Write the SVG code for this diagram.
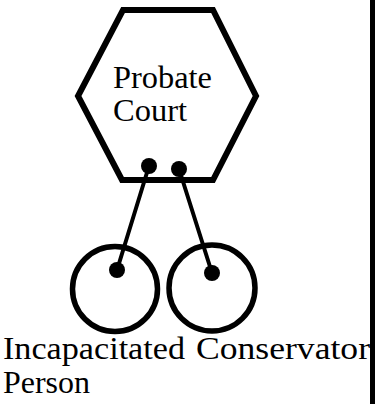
<svg xmlns="http://www.w3.org/2000/svg" width="375" height="404" viewBox="0 0 375 404">
<style>
.shape{fill:none;stroke:#000;}
.dot{fill:#000;}
.lbl{font-size:31px;fill:#000;}
.conn{stroke:#000;stroke-width:4;stroke-linecap:round;fill:none;}
</style>
<rect width="375" height="404" fill="#fff"/>
<rect x="370" y="0" width="5" height="404" fill="#000"/>
<g id="connectors">
<line class="conn" x1="149" y1="166" x2="117" y2="270"/>
<line class="conn" x1="179" y1="169" x2="212" y2="273"/>
</g>
<g id="probate-court">
<polygon class="shape" stroke-width="6" points="123,10 213,10 256,96 213,180 122,180 78,96"/>
<circle class="dot" cx="149" cy="166" r="8"/>
<circle class="dot" cx="179" cy="169" r="8"/>
<text class="lbl" font-family="Liberation Serif" x="113" y="88" textLength="99" lengthAdjust="spacingAndGlyphs">Probate</text>
<text class="lbl" font-family="Liberation Serif" x="113" y="121" textLength="74" lengthAdjust="spacingAndGlyphs">Court</text>
</g>
<g id="incapacitated-person">
<circle class="shape" stroke-width="5.5" cx="115" cy="289" r="42.5"/>
<circle class="dot" cx="117" cy="270" r="8"/>
<text class="lbl" font-family="Liberation Serif" x="3" y="359" textLength="182" lengthAdjust="spacingAndGlyphs">Incapacitated</text>
<text class="lbl" font-family="Liberation Serif" x="3" y="393" textLength="87" lengthAdjust="spacingAndGlyphs">Person</text>
</g>
<g id="conservator">
<circle class="shape" stroke-width="5.5" cx="212" cy="288" r="43"/>
<circle class="dot" cx="212" cy="273" r="8"/>
<text class="lbl" font-family="Liberation Serif" x="196" y="359" textLength="174" lengthAdjust="spacingAndGlyphs">Conservator</text>
</g>
</svg>
